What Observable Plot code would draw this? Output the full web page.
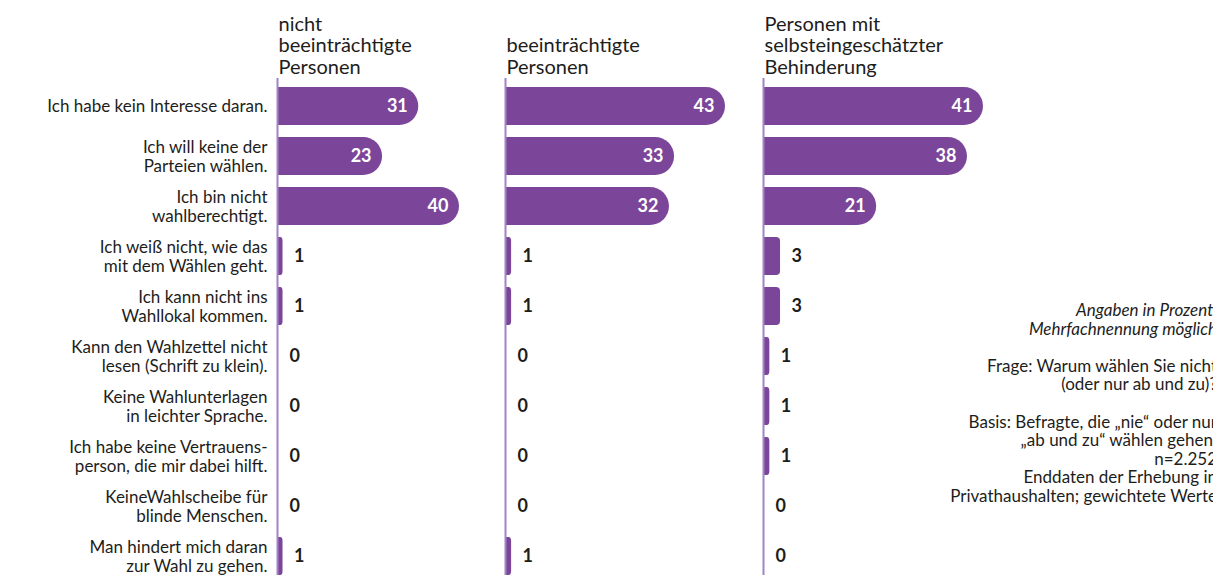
<!DOCTYPE html>
<html><head><meta charset="utf-8">
<script src="https://cdn.jsdelivr.net/npm/d3@7"></script>
<script src="https://cdn.jsdelivr.net/npm/@observablehq/plot@0.6"></script>
<style>
body{margin:0;background:#fff;}
#wrap{position:relative;width:1213px;height:575px;overflow:hidden;font-family:Lato,sans-serif;color:#1d1d1b;}
#wrap svg{position:absolute;left:0;top:0;}
#notes{position:absolute;right:-4px;top:301px;text-align:right;font-size:17px;line-height:18.6px;white-space:nowrap;}
#notes .it{font-style:italic;}
</style></head><body><div id="wrap"><div id="notes"></div></div>
<script>
const categories = [
  "Ich habe kein Interesse daran.",
  "Ich will keine der\nParteien wählen.",
  "Ich bin nicht\nwahlberechtigt.",
  "Ich weiß nicht, wie das\nmit dem Wählen geht.",
  "Ich kann nicht ins\nWahllokal kommen.",
  "Kann den Wahlzettel nicht\nlesen (Schrift zu klein).",
  "Keine Wahlunterlagen\nin leichter Sprache.",
  "Ich habe keine Vertrauens-\nperson, die mir dabei hilft.",
  "KeineWahlscheibe für\nblinde Menschen.",
  "Man hindert mich daran\nzur Wahl zu gehen."
];
const nichtBeeintraechtigt = [31, 23, 40, 1, 1, 0, 0, 0, 0, 1];
const beeintraechtigt = [43, 33, 32, 1, 1, 0, 0, 0, 0, 1];
const selbstBehinderung = [41, 38, 21, 3, 3, 1, 1, 1, 0, 0];
const panelTitles = [
  "nicht\nbeeinträchtigte\nPersonen",
  "beeinträchtigte\nPersonen",
  "Personen mit\nselbsteingeschätzter\nBehinderung"
];
const panelMax = [40, 43, 41];
const notesItalic = ["Angaben in Prozent,", "Mehrfachnennung möglich"];
const notesPlain = [
  "Frage: Warum wählen Sie nicht", "(oder nur ab und zu)?", "",
  "Basis: Befragte, die „nie“ oder nur", "„ab und zu“ wählen gehen.", "n=2.252",
  "Enddaten der Erhebung in", "Privathaushalten; gewichtete Werte"
];

const seriesValues = [nichtBeeintraechtigt, beeintraechtigt, selbstBehinderung];
const layout = [{left: 278, right: 459}, {left: 506, right: 725}, {left: 764, right: 983}];
const W = 1213, H = 575;
const purple = "#7b4699", axisColor = "#a283c6", ink = "#1d1d1b";
const wrap = document.getElementById("wrap");

seriesValues.forEach((vals, i) => {
  const rows = categories.map((c, j) => ({cat: c, v: vals[j]}));
  const big = rows.filter(d => d.v >= 10);
  const small = rows.filter(d => d.v < 10);
  const marks = [
    Plot.barX(big, {x1: 0, x2: "v", y: "cat", fill: purple, rx: 19}),
    Plot.barX(small.filter(d => d.v > 0), {x1: 0, x2: "v", y: "cat", fill: purple, rx: 4}),
    Plot.barX(rows.filter(d => d.v > 0), {x1: 0, x2: d => d.v / 2, y: "cat", fill: purple}),
    Plot.ruleX([0], {stroke: axisColor, strokeWidth: 2, dx: -1}),
    Plot.text(big, {x: "v", y: "cat", text: d => String(d.v), textAnchor: "end", dx: -11, fill: "white", fontWeight: "bold", fontSize: 18}),
    Plot.text(small, {x: "v", y: "cat", text: d => String(d.v), textAnchor: "start", dx: 11, fill: ink, fontWeight: "bold", fontSize: 18}),
    Plot.text([panelTitles[i]], {frameAnchor: "top-left", textAnchor: "start", lineAnchor: "bottom", dy: -5, fontSize: 20, lineHeight: 1.06, fill: ink})
  ];
  if (i === 0) {
    marks.push(Plot.text(rows, {y: "cat", text: "cat", frameAnchor: "left", textAnchor: "end", dx: -11, fontSize: 17, lineHeight: 1.08, fill: ink}));
  }
  const svg = Plot.plot({
    width: W, height: H,
    marginLeft: layout[i].left, marginRight: W - layout[i].right,
    marginTop: 78, marginBottom: 0,
    style: {background: "transparent", fontFamily: "Lato, sans-serif", overflow: "visible"},
    x: {domain: [0, panelMax[i]], axis: null},
    y: {domain: categories, range: [81, 581], paddingInner: 0.24, paddingOuter: 0.12, axis: null},
    marks
  });
  wrap.appendChild(svg);
});

const notes = document.getElementById("notes");
notesItalic.forEach(t => { const d = document.createElement("div"); d.className = "it"; d.textContent = t; notes.appendChild(d); });
notes.appendChild(document.createElement("br"));
notesPlain.forEach(t => { const d = document.createElement("div"); if (t === "") d.innerHTML = "&nbsp;"; else d.textContent = t; notes.appendChild(d); });
</script>
</body></html>
